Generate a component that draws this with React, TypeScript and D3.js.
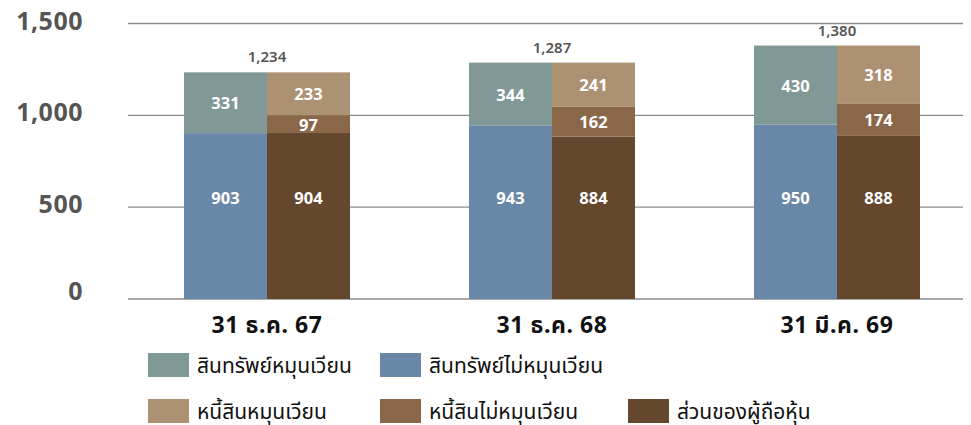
import React from "react";
import * as d3 from "d3";

const categories = ["31 ธ.ค. 67", "31 ธ.ค. 68", "31 มี.ค. 69"];
const currentAssets = [331, 344, 430];
const nonCurrentAssets = [903, 943, 950];
const currentLiabilities = [233, 241, 318];
const nonCurrentLiabilities = [97, 162, 174];
const equity = [904, 884, 888];
const totals = [1234, 1287, 1380];
const yTicks = [0, 500, 1000, 1500];
const legendLabels = [
  "สินทรัพย์หมุนเวียน",
  "สินทรัพย์ไม่หมุนเวียน",
  "หนี้สินหมุนเวียน",
  "หนี้สินไม่หมุนเวียน",
  "ส่วนของผู้ถือหุ้น",
];

const COLORS = {
  ca: "#809896",
  nca: "#6987a6",
  cl: "#ad9173",
  ncl: "#8b6749",
  eq: "#65472e",
};

const W = 971;
const H = 425;
const FONT = "'Noto Sans', 'Noto Sans Thai', 'Noto Sans Thai Looped', Tahoma, sans-serif";

export default function App() {
  const y = d3.scaleLinear().domain([0, 1500]).range([299, 23.5]);
  const pi = 0.4175;
  const x = d3
    .scaleBand<string>()
    .domain(categories)
    .range([124.5, 979.5])
    .paddingInner(pi)
    .paddingOuter(pi / 2);
  const sub = d3.scaleBand<string>().domain(["assets", "liab"]).range([0, x.bandwidth()]);

  type Seg = { key: string; value: number; color: string; labelY?: number };
  const stacks = categories.map((c, i) => {
    const assets: Seg[] = [
      { key: "nca", value: nonCurrentAssets[i], color: COLORS.nca, labelY: 550 },
      { key: "ca", value: currentAssets[i], color: COLORS.ca },
    ];
    const liab: Seg[] = [
      { key: "eq", value: equity[i], color: COLORS.eq, labelY: 550 },
      { key: "ncl", value: nonCurrentLiabilities[i], color: COLORS.ncl },
      { key: "cl", value: currentLiabilities[i], color: COLORS.cl },
    ];
    return { c, i, cols: [{ k: "assets", segs: assets }, { k: "liab", segs: liab }] };
  });

  const legendItems = [
    { label: legendLabels[0], color: COLORS.ca, x: 148, y: 353 },
    { label: legendLabels[1], color: COLORS.nca, x: 380, y: 353 },
    { label: legendLabels[2], color: COLORS.cl, x: 148, y: 399 },
    { label: legendLabels[3], color: COLORS.ncl, x: 380, y: 399 },
    { label: legendLabels[4], color: COLORS.eq, x: 628, y: 399 },
  ];

  return (
    <div style={{ position: "absolute", left: 0, top: 0 }}>
      <svg width={W} height={H} style={{ display: "block", fontFamily: FONT }}>
        <rect width={W} height={H} fill="#ffffff" />
        {yTicks.map((t) => (
          <g key={t}>
            <line x1={128} x2={963} y1={y(t)} y2={y(t)} stroke="#8c8c8c" strokeWidth={1.4} />
            <text
              x={83}
              y={y(t) - (t === 0 ? 9 : 4)}
              textAnchor="end"
              dominantBaseline="central"
              fontSize={25}
              fontWeight={700}
              letterSpacing={0.5}
              fill="#555555"
            >
              {d3.format(",")(t)}
            </text>
          </g>
        ))}
        {stacks.map((s) => {
          const gx = x(s.c)!;
          return (
            <g key={s.c}>
              {s.cols.map((col) => {
                let acc = 0;
                const bx = gx + sub(col.k)!;
                const bw = sub.bandwidth();
                return (
                  <g key={col.k}>
                    {col.segs.map((seg) => {
                      const y0 = acc;
                      const y1 = acc + seg.value;
                      acc = y1;
                      const ly = seg.labelY !== undefined ? y(seg.labelY) : (y(y0) + y(y1)) / 2;
                      return (
                        <g key={seg.key}>
                          <rect x={bx} y={y(y1)} width={bw} height={y(y0) - y(y1)} fill={seg.color} />
                          <text
                            x={bx + bw / 2}
                            y={ly}
                            textAnchor="middle"
                            dominantBaseline="central"
                            fontSize={16.5}
                            fontWeight={700}
                            fill="#ffffff"
                          >
                            {seg.value}
                          </text>
                        </g>
                      );
                    })}
                  </g>
                );
              })}
              <text
                x={gx + x.bandwidth() / 2}
                y={y(totals[s.i]) - 16}
                textAnchor="middle"
                dominantBaseline="central"
                fontSize={15}
                fontWeight={600}
                fill="#555555"
              >
                {d3.format(",")(totals[s.i])}
              </text>
              <text
                x={gx + x.bandwidth() / 2}
                y={324}
                textAnchor="middle"
                dominantBaseline="central"
                fontSize={23}
                fontWeight={700}
                letterSpacing={0.6}
                fill="#111111"
              >
                {s.c}
              </text>
            </g>
          );
        })}
        {legendItems.map((l) => (
          <g key={l.label}>
            <rect x={l.x} y={l.y} width={41} height={24} fill={l.color} />
            <text
              x={l.x + 49}
              y={l.y + 12}
              dominantBaseline="central"
              fontSize={21}
              fontWeight={400}
              fill="#111111"
            >
              {l.label}
            </text>
          </g>
        ))}
      </svg>
    </div>
  );
}
